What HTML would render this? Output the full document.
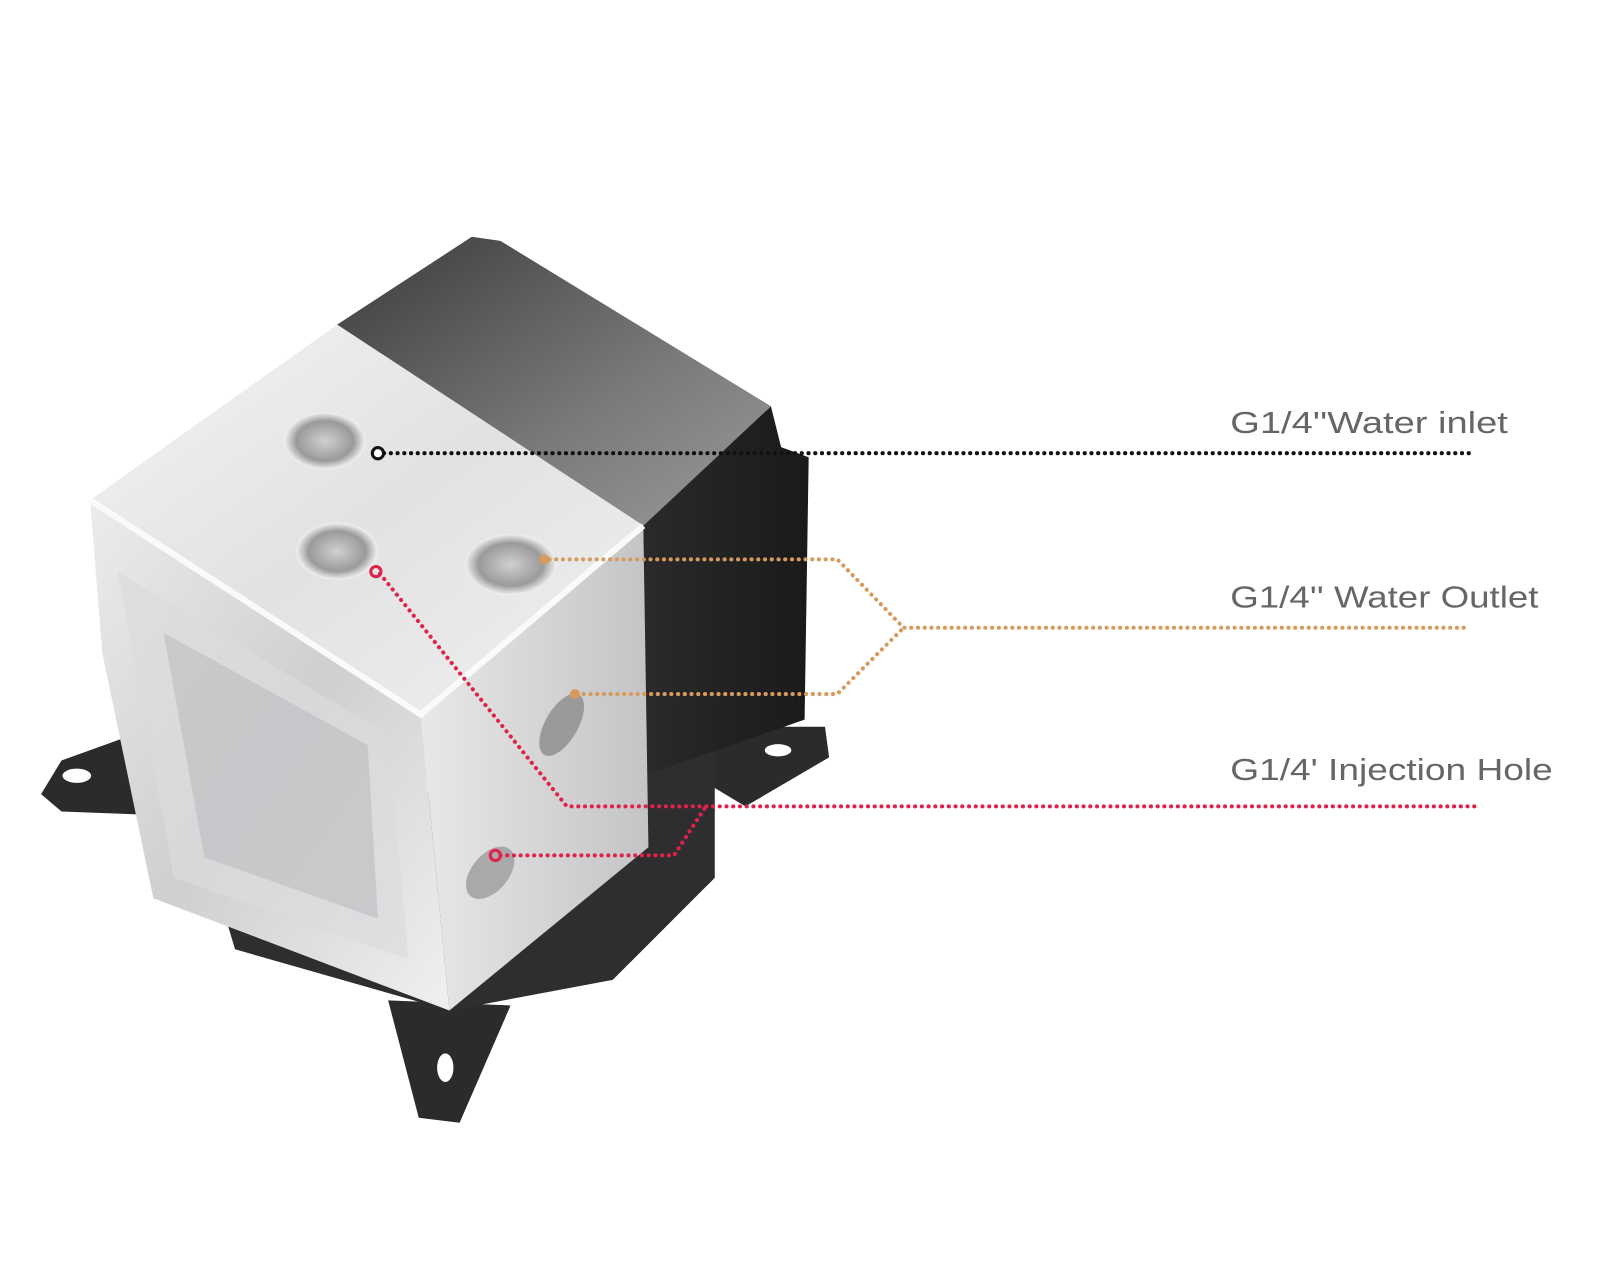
<!DOCTYPE html>
<html><head><meta charset="utf-8"><style>html,body{margin:0;padding:0;background:#fff;}svg{display:block}</style></head>
<body>
<svg width="1600" height="1280" viewBox="0 0 1567 1254" xmlns="http://www.w3.org/2000/svg">
<defs>
<linearGradient id="bt" x1="0" y1="0" x2="1" y2="1"><stop offset="0" stop-color="#3a3a3c"/><stop offset="0.6" stop-color="#7a7a7c"/><stop offset="1" stop-color="#9a9a9c"/></linearGradient>
<linearGradient id="bs" x1="0" y1="0" x2="1" y2="0"><stop offset="0" stop-color="#2a2a2c"/><stop offset="1" stop-color="#1a1a1a"/></linearGradient>
<linearGradient id="ct" x1="0" y1="0" x2="1" y2="1"><stop offset="0" stop-color="#f4f4f4"/><stop offset="0.5" stop-color="#e2e2e4"/><stop offset="1" stop-color="#f0f0f0"/></linearGradient>
<linearGradient id="cf" x1="0" y1="0" x2="1" y2="1"><stop offset="0" stop-color="#ececee"/><stop offset="0.5" stop-color="#cfcfd1"/><stop offset="1" stop-color="#f0f0f0"/></linearGradient>
<linearGradient id="cr" x1="0" y1="0" x2="1" y2="0"><stop offset="0" stop-color="#e8e8e8"/><stop offset="1" stop-color="#c4c4c6"/></linearGradient>
<radialGradient id="hole"><stop offset="0" stop-color="#d0d0d0"/><stop offset="0.7" stop-color="#9a9a9a"/><stop offset="1" stop-color="#f2f2f2"/></radialGradient>
</defs>
<polygon points="40,778 60,745 135,718 205,760 190,800 60,795" fill="#2b2b2d"/>
<ellipse cx="75" cy="760" rx="14" ry="7" fill="#fff"/>
<polygon points="690,712 808,712 812,742 730,790 680,760" fill="#2b2b2d"/>
<ellipse cx="762" cy="735" rx="13" ry="6" fill="#fff"/>
<polygon points="380,980 500,985 450,1100 410,1095" fill="#2b2b2d"/>
<ellipse cx="436" cy="1046" rx="8" ry="14" fill="#fff"/>
<polygon points="200,830 300,800 700,720 700,860 600,960 440,990 230,930" fill="#2e2e30"/>
<polygon points="330,318 462,232 490,236 755,398 630,515" fill="url(#bt)"/>
<polygon points="630,515 755,398 765,438 792,448 788,705 630,760" fill="url(#bs)"/>
<polygon points="88,490 330,318 630,515 412,700" fill="url(#ct)"/>
<polygon points="630,515 635,830 440,990 412,700" fill="url(#cr)"/>
<polygon points="88,490 412,700 440,990 150,880 100,640" fill="url(#cf)"/>
<polygon points="115,560 380,720 400,940 170,860" fill="#dcdcde" opacity="0.7"/>
<polygon points="160,620 360,730 370,900 200,840" fill="#bdbdbf" opacity="0.6"/>
<polyline points="88,490 412,700 630,515" fill="none" stroke="#fafafa" stroke-width="6"/>
<ellipse cx="318" cy="432" rx="40" ry="28" fill="url(#hole)"/>
<ellipse cx="330" cy="540" rx="40" ry="28" fill="url(#hole)"/>
<ellipse cx="500" cy="553" rx="45" ry="30" fill="url(#hole)"/>
<ellipse cx="550" cy="710" rx="16" ry="34" fill="#9a9a9c" transform="rotate(30 550 710)"/>
<ellipse cx="480" cy="855" rx="18" ry="30" fill="#a9a9ab" transform="rotate(40 480 855)"/>
<g fill="none" stroke-width="4" stroke-dasharray="0.1 6.5" stroke-linecap="round">
<line x1="376" y1="444" x2="1440" y2="444" stroke="#111"/>
<polyline points="538,548 820,548 885,615 1440,615" stroke="#d69a5c"/>
<polyline points="565,680 820,680 885,615" stroke="#d69a5c"/>
<polyline points="372,562 555,790 1445,790" stroke="#e2214a"/>
<polyline points="490,838 660,838 690,792" stroke="#e2214a"/>
</g>
<circle cx="370" cy="444" r="5.5" fill="#fff" stroke="#111" stroke-width="3"/>
<circle cx="368" cy="560" r="5" fill="none" stroke="#e2214a" stroke-width="3"/>
<circle cx="485" cy="838" r="5" fill="none" stroke="#e2214a" stroke-width="3"/>
<circle cx="533" cy="548" r="5" fill="#d69a5c"/>
<circle cx="563" cy="680" r="5" fill="#d69a5c"/>
<g font-family="Liberation Sans, sans-serif" fill="#666668" font-size="30">
<text x="1205" y="424" textLength="272" lengthAdjust="spacingAndGlyphs">G1/4''Water inlet</text>
<text x="1205" y="595" textLength="302" lengthAdjust="spacingAndGlyphs">G1/4''  Water Outlet</text>
<text x="1205" y="764" textLength="316" lengthAdjust="spacingAndGlyphs">G1/4'  Injection Hole</text>
</g>
</svg>
</body></html>
